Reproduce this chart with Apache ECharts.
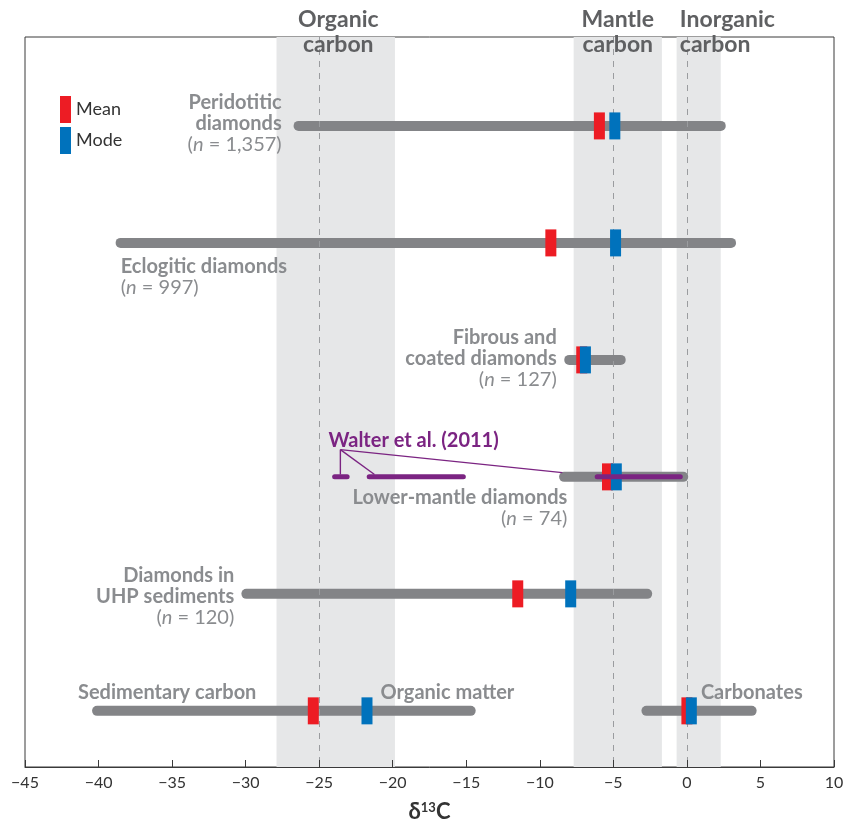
<!DOCTYPE html>
<html><head><meta charset="utf-8">
<script src="https://cdn.jsdelivr.net/npm/echarts@6/dist/echarts.min.js"></script>
<style>html,body{margin:0;padding:0;background:#fff}#c{width:847px;height:822px}</style>
</head><body><div id="c"></div>
<script>
// ---- data ----
const groups = ['Peridotitic diamonds','Eclogitic diamonds','Fibrous and coated diamonds','Lower-mantle diamonds','Diamonds in UHP sediments','Sedimentary carbon','Carbonates'];
const groupRow = [0,1,2,3,4,5,5];
const rangeLow  = [-26.4,-38.5,-8.0,-8.35,-29.95,-40.1,-2.75];
const rangeHigh = [2.3,3.0,-4.5,-0.25,-2.7,-14.7,4.4];
const meanValues = [-5.95,-9.25,-7.15,-5.4,-11.5,-25.4,0.0];
const modeValues = [-4.9,-4.85,-6.9,-4.8,-7.9,-21.75,0.3];
const walterLow  = [-23.95,-21.6,-6.1];
const walterHigh = [-23.1,-15.2,-0.45];
const walterRow = 3;
const walterLeaderFrom = [-23.56, 2.767];
const walterLeaderTo = [[-23.56, 2.98],[-21.24, 2.98],[-8.47, 2.964]];
const bandNames = ['Organic carbon','Mantle carbon','Inorganic carbon'];
const bandLow  = [-27.9,-7.7,-0.7];
const bandHigh = [-19.85,-1.7,2.3];
const refLines = [-25,-5,0];
const xMin = -45, xMax = 10, xStep = 5;

// label anchors (data coordinates)
const labelSpecs = [
 {x:-27.55, y:-0.024, align:'right', text:'{b|Peridotitic}\n{b|diamonds}\n{r|(}{i|n}{r| = 1,357)}'},
 {x:-38.49, y:1.289, align:'left', text:'{b|Eclogitic diamonds}\n{r|(}{i|n}{r| = 997)}'},
 {x:-8.85, y:1.985, align:'right', text:'{b|Fibrous and}\n{b|coated diamonds}\n{r|(}{i|n}{r| = 127)}'},
 {x:-8.13, y:3.265, align:'right', text:'{b|Lower-mantle diamonds}\n{r|(}{i|n}{r| = 74)}'},
 {x:-30.77, y:4.022, align:'right', text:'{b|Diamonds in}\n{b|UHP sediments}\n{r|(}{i|n}{r| = 120)}'},
 {x:-41.4, y:4.843, align:'left', text:'{b|Sedimentary carbon}'},
 {x:-20.83, y:4.843, align:'left', text:'{b|Organic matter}'},
 {x:0.95, y:4.843, align:'left', text:'{b|Carbonates}'},
 {x:-24.37, y:2.687, align:'left', text:'{w|Walter et al. (2011)}'},
 {x:-23.7, y:-0.8, align:'center', text:'{h|Organic}\n{h|carbon}'},
 {x:-4.7, y:-0.8, align:'center', text:'{h|Mantle}\n{h|carbon}'},
 {x:-0.48, y:-0.8, align:'left', text:'{h|Inorganic}\n{h|carbon}'}
];

// ---- styles ----
const FONT = 'Lato, "Open Sans", sans-serif';
const GRAY = '#838487', RED = '#ed1c24', BLUE = '#0072bc', PURPLE = '#7b2482';
const LG = '#8a8c8f';
const rich = {
  b:{fontFamily:FONT, fontWeight:'bold', fontSize:20, fill:LG, color:LG, lineHeight:21},
  r:{fontFamily:FONT, fontSize:20, fill:LG, color:LG, lineHeight:21},
  i:{fontFamily:FONT, fontStyle:'italic', fontSize:20, fill:LG, color:LG, lineHeight:21},
  w:{fontFamily:FONT, fontWeight:'bold', fontSize:20, fill:PURPLE, color:PURPLE, lineHeight:21},
  h:{fontFamily:FONT, fontWeight:'bold', fontSize:23, fill:'#5f6062', color:'#5f6062', lineHeight:25}
};

const chart = echarts.init(document.getElementById('c'), null, {renderer:'canvas'});

function segRender(width, color){
  return function(params, api){
    const p1 = api.coord([api.value(0), api.value(2)]);
    const p2 = api.coord([api.value(1), api.value(2)]);
    return {type:'line', shape:{x1:p1[0], y1:p1[1], x2:p2[0], y2:p2[1]},
      style:{stroke:color, lineWidth:width, lineCap:'round', fill:null}};
  };
}

const option = {
  animation:false,
  backgroundColor:'#fff',
  grid:{left:25, right:13, top:37, bottom:55, containLabel:false, outerBoundsMode:'none',
    show:true, borderColor:'#3a3a3a', borderWidth:1, backgroundColor:'transparent'},
  legend:{data:['Mean','Mode'], orient:'vertical', left:60, top:96, padding:0, itemWidth:11, itemHeight:27, itemGap:4, icon:'rect',
    textStyle:{fontFamily:FONT, fontSize:18, color:'#333'}},
  xAxis:{type:'value', min:xMin, max:xMax, interval:xStep, z:10,
    axisLine:{show:true, onZero:false, lineStyle:{color:'#3a3a3a', width:1}},
    axisTick:{show:true, inside:true, length:7, lineStyle:{color:'#3a3a3a'}},
    splitLine:{show:false},
    axisLabel:{fontFamily:FONT, fontSize:16, color:'#333', margin:8,
      formatter:v => v < 0 ? '\u2212' + Math.abs(v) : String(v)},
    name:'{d|\u03b4}{s|13}{d|C}', nameLocation:'middle', nameGap:34,
    nameTextStyle:{rich:{d:{fontFamily:FONT, fontWeight:'bold', fontSize:22, color:'#333'},
      s:{fontFamily:FONT, fontWeight:'bold', fontSize:13, color:'#333', verticalAlign:'top', padding:[0,0,9,0]}}}
  },
  yAxis:{type:'value', inverse:true, min:-0.76, max:5.48, show:false, splitLine:{show:false}},
  series:[
    {type:'custom', name:'ranges', z:3, silent:true,
      data: groups.map((g,i)=>[rangeLow[i], rangeHigh[i], groupRow[i]]),
      encode:{x:[0,1], y:2},
      renderItem: segRender(10, GRAY),
      markArea:{silent:true, itemStyle:{color:'#e6e7e8'}, z:1,
        data: bandNames.map((n,i)=>[{xAxis:bandLow[i]},{xAxis:bandHigh[i]}])},
      markLine:{silent:true, symbol:'none', label:{show:false},
        lineStyle:{color:'#9a9c9f', type:[6,6], width:1},
        data: refLines.map(v=>({xAxis:v}))}
    },
    {type:'scatter', name:'Mean', z:5, symbol:'rect', symbolSize:[11,27], itemStyle:{color:RED, opacity:1},
      data: meanValues.map((v,i)=>[v, groupRow[i]])},
    {type:'scatter', name:'Mode', z:6, symbol:'rect', symbolSize:[11,27], itemStyle:{color:BLUE, opacity:1},
      data: modeValues.map((v,i)=>[v, groupRow[i]])},
    {type:'custom', name:'walter', z:7, silent:true,
      data: walterLow.map((v,i)=>[v, walterHigh[i], walterRow]),
      encode:{x:[0,1], y:2},
      renderItem: segRender(5, PURPLE)},
    {type:'custom', name:'leaders', z:7, silent:true,
      data: walterLeaderTo.map(t=>[walterLeaderFrom[0], walterLeaderFrom[1], t[0], t[1]]),
      encode:{x:[0,2], y:[1,3]},
      renderItem: function(params, api){
        const p1 = api.coord([api.value(0), api.value(1)]);
        const p2 = api.coord([api.value(2), api.value(3)]);
        return {type:'line', shape:{x1:p1[0], y1:p1[1], x2:p2[0], y2:p2[1]},
          style:{stroke:PURPLE, lineWidth:1.4, fill:null}};
      }},
    {type:'custom', name:'labels', z:8, silent:true, clip:false,
      data: labelSpecs.map((s,i)=>[s.x, s.y, i]),
      encode:{x:0, y:1},
      renderItem: function(params, api){
        const s = labelSpecs[api.value(2)];
        const p = api.coord([api.value(0), api.value(1)]);
        return {type:'text', x:p[0], y:p[1],
          style:{text:s.text, rich:rich, align:s.align, verticalAlign:'middle', fill:LG, font:'20px ' + FONT}};
      }}
  ]
};
chart.setOption(option);
</script>
</body></html>
